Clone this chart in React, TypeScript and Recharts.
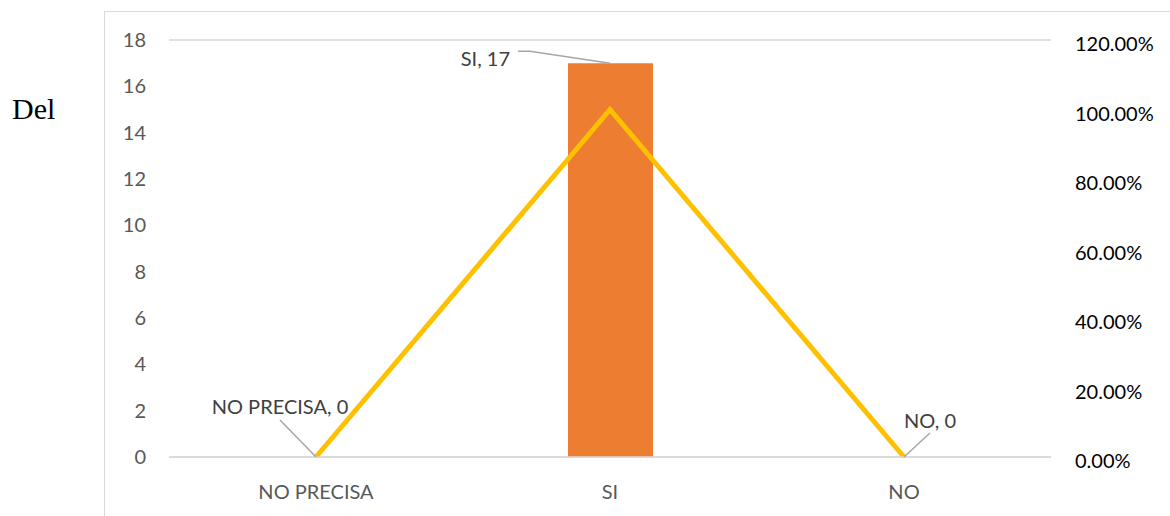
import { ComposedChart, Bar, Line, XAxis, YAxis, CartesianGrid, LabelList } from 'recharts'

const categories = ['NO PRECISA', 'SI', 'NO']
const counts = [0, 17, 0]
const shares = [0, 1, 0]
const countTicks = [0, 2, 4, 6, 8, 10, 12, 14, 16, 18]
const shareTicks = [0, 0.2, 0.4, 0.6, 0.8, 1, 1.2]

const data = categories.map((cat, i) => ({ cat, count: counts[i], share: shares[i] }))

const FONT = 'Lato, "Open Sans", sans-serif'

// where each callout sits, relative to the top centre of its bar
const callouts = [
  { tx: -36, ty: -51, anchor: 'middle', pts: [[0, 0], [-36, -37]] },
  { tx: -100, ty: -5, anchor: 'end', pts: [[0, 0], [-80, -12], [-92, -12]] },
  { tx: 0, ty: -37, anchor: 'start', pts: [[0, 0], [26, -24]] }
]

const Callout = (props: any) => {
  const { x, y, value, index } = props
  const c = callouts[index]
  if (!c) return null
  const pts = c.pts.map(([px, py]) => `${x + px},${y + py}`).join(' ')
  return (
    <g>
      <polyline points={pts} fill='none' stroke='#A6A6A6' strokeWidth={1.5} />
      <text
        x={x + c.tx}
        y={y + c.ty}
        textAnchor={c.anchor}
        dominantBaseline='central'
        fill='#404040'
        fontSize={20}
        fontFamily={FONT}
      >
        {categories[index]}, {value}
      </text>
    </g>
  )
}

const RightTick = (props: any) => {
  const { x, y, payload } = props
  return (
    <text x={x} y={y + 4} dy='0.35em' textAnchor='start' fill='#000' fontSize={20} fontFamily={FONT}>
      {(payload.value * 100).toFixed(2)}%
    </text>
  )
}

export default function App() {
  return (
    <div style={{ position: 'absolute', left: 0, top: 0, width: 1170, height: 516, background: '#fff', overflow: 'hidden' }}>
      {/* chart frame, runs off the right and bottom edge */}
      <div style={{ position: 'absolute', left: 104, top: 11, width: 1100, height: 540, border: '1px solid #D9D9D9' }} />
      <div style={{ position: 'absolute', left: 12, top: 91, fontFamily: '"Liberation Serif", "Times New Roman", serif', fontSize: 30, lineHeight: '36px', color: '#000' }}>
        Del
      </div>
      <div style={{ position: 'absolute', left: 0, top: 0 }}>
        <ComposedChart width={1170} height={516} data={data} margin={{ top: 40, right: 39, bottom: 29, left: 109 }}>
          <CartesianGrid vertical={false} stroke='#D9D9D9' strokeWidth={1.5} />
          <XAxis
            dataKey='cat'
            height={30}
            tickLine={false}
            axisLine={{ stroke: '#D9D9D9', strokeWidth: 1.5 }}
            tickSize={0}
            tickMargin={28}
            tick={{ fill: '#595959', fontSize: 20, fontFamily: FONT }}
          />
          <YAxis
            yAxisId='left'
            width={60}
            domain={[0, 18]}
            ticks={countTicks}
            interval={0}
            tickLine={false}
            axisLine={false}
            tickSize={0}
            tickMargin={23}
            tick={{ fill: '#595959', fontSize: 20, fontFamily: FONT }}
          />
          <YAxis
            yAxisId='right'
            orientation='right'
            width={80}
            domain={[0, 1.2]}
            ticks={shareTicks}
            interval={0}
            tickLine={false}
            axisLine={false}
            tickSize={0}
            tickMargin={24}
            tick={<RightTick />}
          />
          <Bar yAxisId='left' dataKey='count' fill='#ED7D31' barSize={85} isAnimationActive={false} />
          <Line
            yAxisId='right'
            type='linear'
            dataKey='share'
            stroke='#FFC000'
            strokeWidth={5}
            dot={false}
            activeDot={false}
            isAnimationActive={false}
          />
          {/* invisible carrier for the bar callouts, so zero bars get one too */}
          <Line
            yAxisId='left'
            dataKey='count'
            stroke='none'
            dot={false}
            activeDot={false}
            legendType='none'
            isAnimationActive={false}
          >
            <LabelList dataKey='count' content={<Callout />} />
          </Line>
        </ComposedChart>
      </div>
    </div>
  )
}
